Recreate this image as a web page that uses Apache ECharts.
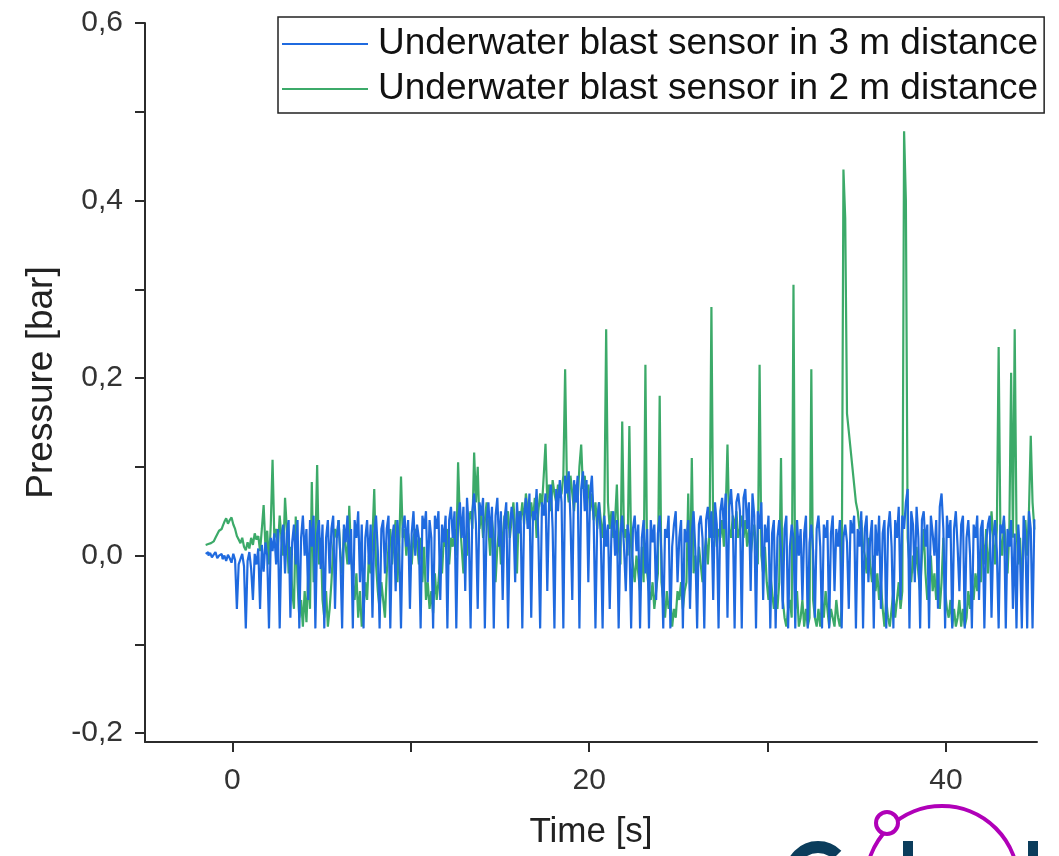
<!DOCTYPE html>
<html>
<head>
<meta charset="utf-8">
<title>Underwater blast sensors</title>
<script src="https://cdn.jsdelivr.net/npm/echarts@6/dist/echarts.min.js"></script>
<style>
  html, body { margin: 0; padding: 0; background: #fff; }
  #chart { width: 1059px; height: 856px; }
</style>
</head>
<body>
<div id="chart"></div>
<script>
// sampling grid of the recording (s): first sample and step
const tStart = -1.5
const tStep = 0.1

const seriesNames = ['Underwater blast sensor in 3 m distance', 'Underwater blast sensor in 2 m distance']

// pressure [bar], sensor at 3 m, one row = one second
const sensor3m = [
  0.002, 0.004, 0.0, 0.003, -0.002, 0.001, 0.004, -0.003, 0.0, 0.002,
  -0.004, 0.0, -0.006, 0.001, -0.003, -0.008, 0.002, -0.005, -0.06, -0.01,
  -0.004, 0.002, -0.012, -0.082, -0.006, 0.004, -0.015, -0.05, 0.002, -0.01,
  0.008, -0.06, 0.012, -0.018, 0.015, 0.0, -0.082, 0.02, 0.005, 0.025,
  -0.01, 0.03, -0.082, 0.02, 0.035, -0.02, 0.025, 0.04, -0.07, 0.015,
  0.035, -0.01, 0.04, -0.082, 0.02, 0.045, 0.0, 0.03, -0.05, 0.04,
  0.01, 0.045, -0.082, 0.025, 0.04, -0.015, 0.035, -0.082, 0.02, 0.04,
  -0.02, 0.03, 0.045, -0.06, 0.02, 0.04, 0.0, -0.082, 0.035, 0.015,
  0.045, -0.01, 0.03, -0.082, 0.04, 0.02, 0.05, -0.03, 0.035, -0.082,
  0.02, 0.04, -0.01, 0.035, -0.07, 0.025, 0.045, 0.005, -0.082, 0.03,
  0.04, -0.02, 0.03, 0.045, -0.082, 0.02, 0.035, -0.04, 0.04, 0.01,
  -0.082, 0.03, 0.045, 0.01, 0.04, -0.06, 0.025, 0.05, 0.0, 0.035,
  0.02, -0.082, 0.045, 0.03, 0.05, -0.03, 0.04, 0.02, -0.082, 0.045,
  0.03, 0.05, -0.05, 0.035, 0.015, 0.045, -0.082, 0.04, 0.055, 0.02,
  0.05, -0.082, 0.04, 0.06, 0.02, 0.055, -0.04, 0.065, 0.03, -0.082,
  0.05, 0.07, 0.035, -0.06, 0.06, 0.045, 0.065, -0.082, 0.04, 0.06,
  0.02, 0.055, -0.082, 0.045, 0.065, 0.01, 0.05, -0.05, 0.04, 0.06,
  -0.082, 0.03, 0.055, 0.04, -0.03, 0.06, 0.025, 0.05, -0.082, 0.045,
  0.065, 0.03, 0.07, -0.07, 0.05, 0.04, 0.075, 0.02, -0.082, 0.06,
  0.045, 0.07, -0.04, 0.06, 0.08, 0.03, -0.082, 0.075, 0.05, 0.085,
  0.06, -0.082, 0.09, 0.07, 0.095, 0.04, -0.05, 0.085, 0.06, 0.09,
  -0.082, 0.075, 0.095, 0.05, 0.085, -0.03, 0.07, 0.09, 0.04, -0.082,
  0.04, 0.06, 0.02, -0.082, 0.045, 0.01, 0.035, -0.06, 0.03, 0.05,
  0.0, 0.04, -0.082, 0.025, 0.045, 0.01, -0.04, 0.035, 0.02, -0.082,
  0.03, 0.045, 0.005, 0.035, -0.082, 0.02, 0.04, -0.02, 0.03, -0.082,
  0.04, 0.015, 0.035, -0.05, 0.025, 0.045, 0.0, -0.082, 0.03, 0.02,
  0.045, -0.082, 0.01, 0.035, 0.05, -0.03, 0.02, 0.04, -0.082, 0.03,
  0.015, 0.04, -0.06, 0.025, 0.05, 0.005, -0.082, 0.035, 0.045, 0.02,
  -0.082, 0.04, 0.055, 0.02, 0.05, -0.05, 0.06, 0.035, -0.082, 0.05,
  0.065, 0.03, 0.07, -0.07, 0.055, 0.075, 0.04, -0.082, 0.06, 0.07,
  0.05, -0.082, 0.065, 0.075, 0.03, 0.06, -0.04, 0.07, 0.045, -0.082,
  0.05, 0.03, 0.06, -0.05, 0.035, 0.015, 0.045, -0.082, 0.025, 0.04,
  -0.082, 0.02, 0.04, 0.005, -0.06, 0.03, 0.045, -0.082, 0.01, 0.035,
  0.02, -0.082, 0.04, 0.0, 0.03, -0.05, 0.025, 0.045, -0.082, 0.015,
  0.035, 0.005, -0.07, 0.03, 0.045, 0.01, -0.082, 0.035, 0.02, 0.04,
  -0.082, 0.025, 0.045, -0.04, 0.03, 0.01, 0.04, -0.082, 0.02, 0.035,
  0.015, -0.06, 0.04, 0.025, 0.045, -0.082, 0.03, 0.01, 0.05, -0.082,
  0.03, 0.045, -0.03, 0.02, 0.04, -0.082, 0.035, 0.0, 0.045, -0.06,
  0.025, 0.04, -0.082, 0.03, 0.05, 0.01, -0.082, 0.04, 0.02, 0.055,
  -0.05, 0.045, 0.03, 0.06, 0.075, -0.082, 0.05, 0.035, -0.03, 0.055,
  0.02, -0.082, 0.04, 0.05, 0.01, 0.035, -0.082, 0.045, 0.025, 0.0,
  0.04, -0.06, 0.055, 0.07, 0.03, -0.082, 0.045, 0.02, 0.04, -0.082,
  0.03, 0.05, 0.01, -0.04, 0.035, 0.045, -0.082, 0.02, 0.04, 0.0,
  -0.082, 0.035, 0.02, 0.045, -0.05, 0.03, 0.04, -0.082, 0.015, 0.035,
  0.045, -0.07, 0.02, 0.04, 0.005, -0.082, 0.035, 0.025, 0.045, -0.082,
  0.03, 0.01, 0.04, -0.06, 0.025, -0.082, 0.035, 0.0, -0.082, 0.045,
  0.02, -0.082, 0.05, 0.03, -0.082, 0.04
]

// pressure [bar], sensor at 2 m, one row = one second
const sensor2m = [
  0.012, 0.013, 0.011, 0.014, 0.016, 0.018, 0.02, 0.024, 0.028, 0.03,
  0.033, 0.038, 0.042, 0.036, 0.04, 0.043, 0.035, 0.03, 0.022, 0.018,
  0.014, 0.02, 0.01, 0.006, 0.015, 0.008, 0.02, 0.012, 0.025, 0.018,
  0.022, 0.005, 0.03, 0.057, 0.01, 0.028, -0.01, 0.035, 0.108, 0.02,
  0.03, 0.01, 0.045, 0.02, 0.0, 0.065, 0.03, -0.02, 0.01, -0.04,
  -0.06, 0.044, -0.03, -0.07, -0.05, -0.08, -0.04, -0.075, -0.02, -0.06,
  0.083, -0.03, 0.01, 0.102, -0.01, 0.02, -0.05, -0.07, -0.04, -0.08,
  -0.06, -0.03, 0.01, 0.03, 0.02, 0.04, 0.0, -0.02, 0.03, 0.01,
  -0.01, 0.056, 0.0, -0.03, -0.05, -0.02, -0.07, -0.04, -0.08, -0.06,
  -0.03, -0.05, 0.0, -0.02, 0.02, 0.075, -0.01, -0.04, -0.06, -0.03,
  -0.05, -0.07, -0.02, 0.01, 0.03, -0.01, 0.02, 0.04, -0.03, 0.01,
  0.089, 0.02, 0.03, 0.0, 0.025, 0.01, -0.01, 0.02, 0.03, 0.015,
  -0.01, 0.02, -0.03, 0.01, -0.05, -0.03, -0.06, -0.04, -0.065, -0.02,
  -0.05, -0.03, 0.0, -0.02, 0.02, 0.01, 0.03, -0.01, 0.02, 0.01,
  0.03, 0.0, 0.105, 0.04, 0.01, -0.02, 0.02, 0.0, 0.04, 0.05,
  0.03, 0.116, 0.06, 0.1, 0.03, 0.05, 0.02, 0.04, 0.06, 0.03,
  0.0, 0.04, 0.02, -0.03, 0.01, 0.03, -0.01, 0.02, 0.045, 0.03,
  0.05, 0.02, 0.04, 0.06, 0.03, -0.02, 0.05, 0.04, 0.06, 0.035,
  0.07, 0.05, 0.03, 0.06, 0.04, 0.065, 0.02, 0.05, 0.07, 0.055,
  0.09, 0.126, 0.06, 0.08, 0.05, 0.085, 0.07, 0.06, 0.08, 0.065,
  0.07, 0.09, 0.21, 0.08, 0.06, 0.09, 0.07, 0.05, 0.08, 0.06,
  0.1, 0.125, 0.075, 0.09, 0.06, 0.08, 0.05, 0.07, 0.04, 0.06,
  0.03, 0.06, 0.04, 0.02, 0.05, 0.255, 0.06, 0.03, 0.05, 0.02,
  0.04, 0.08, 0.01, -0.01, 0.151, 0.02, 0.03, 0.0, 0.146, 0.01,
  -0.01, -0.03, 0.0, -0.02, -0.04, 0.01, -0.03, 0.215, -0.02, -0.04,
  -0.05, -0.03, -0.06, -0.04, -0.02, 0.18, -0.03, -0.05, -0.07, -0.04,
  -0.06, -0.05, -0.08, -0.06, -0.07, -0.04, -0.05, -0.03, -0.06, -0.04,
  -0.03, 0.07, -0.04, 0.11, -0.02, 0.0, -0.03, 0.01, -0.01, -0.03,
  0.0, 0.02, -0.01, 0.03, 0.28, 0.02, 0.04, 0.01, 0.03, 0.02,
  0.04, 0.01, 0.05, 0.125, 0.03, 0.02, 0.045, 0.03, 0.05, 0.02,
  0.03, 0.045, 0.02, 0.04, 0.01, 0.03, 0.0, 0.02, 0.035, 0.01,
  -0.01, 0.215, 0.0, -0.02, 0.01, -0.03, -0.05, -0.02, -0.04, -0.06,
  -0.04, -0.06, -0.03, 0.11, -0.05, -0.07, -0.08, -0.06, -0.05, -0.07,
  0.305, -0.06, -0.04, -0.08, -0.07, -0.05, -0.08, -0.06, -0.08, -0.07,
  0.21, -0.05, -0.07, -0.08, -0.06, -0.08, -0.05, -0.07, -0.04, -0.06,
  -0.08, -0.06, -0.07, -0.08, -0.05, -0.07, -0.08, -0.06, 0.435, 0.38,
  0.16, 0.14, 0.12, 0.1, 0.08, 0.06, 0.05, 0.03, 0.04, 0.01,
  0.0, -0.02, 0.02, -0.01, -0.03, 0.0, -0.04, -0.02, -0.05, -0.03,
  -0.06, -0.08, -0.05, -0.07, -0.08, -0.06, -0.04, -0.07, -0.05, -0.03,
  -0.06, -0.04, 0.478, 0.4, 0.02, -0.01, -0.03, 0.0, -0.02, 0.01,
  -0.02, -0.04, 0.0, 0.03, -0.02, -0.05, -0.03, 0.0, -0.04, -0.02,
  -0.05, -0.01, -0.06, -0.03, 0.02, -0.04, -0.06, -0.07, -0.05, -0.08,
  -0.06, -0.08, -0.07, -0.05, -0.08, -0.06, -0.08, -0.07, -0.04, -0.06,
  -0.03, -0.05, -0.02, -0.04, 0.0, -0.03, 0.02, -0.01, 0.03, -0.02,
  0.01, 0.05, 0.02, -0.01, 0.03, 0.235, 0.02, 0.0, 0.04, 0.01,
  -0.02, 0.03, 0.206, 0.02, 0.255, 0.03, -0.01, 0.02, -0.03, 0.01,
  0.04, 0.0, 0.05, 0.135, 0.06, 0.03
]

const xTicks = [0, 10, 20, 30, 40]
const xLabels = [0, 20, 40]
const yTicks = [-0.2, -0.1, 0, 0.1, 0.2, 0.3, 0.4, 0.5, 0.6]
const yLabels = [-0.2, 0, 0.2, 0.4, 0.6]

function withTime(values) {
  return values.map((v, i) => [+(tStart + i * tStep).toFixed(2), v])
}

const font = 'Liberation Sans, Arial, sans-serif'
const axisColor = '#2b2b2b'

const chart = echarts.init(document.getElementById('chart'))
chart.setOption({
  animation: false,
  backgroundColor: '#fff',
  color: ['#1f6adf', '#3caa69'],
  grid: { left: 145, right: 22, top: 23, bottom: 114, containLabel: false },
  legend: {
    orient: 'vertical',
    left: 278,
    top: 17,
    padding: [6, 6, 3, 4],
    itemGap: 3,
    icon: 'rect',
    itemWidth: 86,
    itemHeight: 2,
    borderColor: '#222',
    borderWidth: 1.5,
    textStyle: { fontFamily: font, fontSize: 37, lineHeight: 42, color: '#111', padding: [0, 0, 0, 5] },
    data: seriesNames
  },
  xAxis: {
    type: 'value',
    min: -4.9,
    max: 45.1,
    name: 'Time [s]',
    nameLocation: 'middle',
    nameGap: 73,
    nameTextStyle: { fontFamily: font, fontSize: 35, color: '#222' },
    axisLine: { onZero: false, lineStyle: { color: axisColor, width: 2 } },
    axisTick: { show: true, inside: false, length: 10, customValues: xTicks, lineStyle: { color: axisColor, width: 2 } },
    axisLabel: { customValues: xLabels, margin: 24, fontFamily: font, fontSize: 30, color: '#333' },
    splitLine: { show: false }
  },
  yAxis: {
    type: 'value',
    min: -0.21,
    max: 0.6,
    name: 'Pressure [bar]',
    nameLocation: 'middle',
    nameGap: 82,
    nameTextStyle: { fontFamily: font, fontSize: 37, color: '#222' },
    axisLine: { show: true, onZero: false, lineStyle: { color: axisColor, width: 2 } },
    axisTick: { show: true, inside: false, length: 10, customValues: yTicks, lineStyle: { color: axisColor, width: 2 } },
    axisLabel: {
      customValues: yLabels,
      margin: 22,
      fontFamily: font,
      fontSize: 30,
      color: '#333',
      formatter: v => v.toFixed(1).replace('.', ',')
    },
    splitLine: { show: false }
  },
  series: [
    {
      name: seriesNames[0],
      type: 'line',
      z: 3,
      step: 'middle',
      symbol: 'none',
      lineStyle: { width: 2.2 },
      data: withTime(sensor3m)
    },
    {
      name: seriesNames[1],
      type: 'line',
      z: 2,
      step: 'middle',
      symbol: 'none',
      lineStyle: { width: 2.2 },
      data: withTime(sensor2m)
    }
  ],
  // cut-off logo in the lower right corner
  graphic: [
    { type: 'arc', shape: { cx: 942, cy: 882, r: 76, startAngle: Math.PI, endAngle: 2 * Math.PI }, style: { stroke: '#b000b8', lineWidth: 4, fill: null } },
    { type: 'circle', shape: { cx: 887, cy: 823, r: 11 }, style: { stroke: '#b000b8', lineWidth: 4, fill: '#fff' } },
    { type: 'arc', shape: { cx: 818, cy: 874, r: 27, startAngle: Math.PI, endAngle: 1.75 * Math.PI }, style: { stroke: '#0b3d5c', lineWidth: 12, fill: null } },
    { type: 'rect', shape: { x: 903, y: 841, width: 10, height: 20 }, style: { fill: '#0b3d5c' } },
    { type: 'rect', shape: { x: 1028, y: 841, width: 10, height: 20 }, style: { fill: '#0b3d5c' } }
  ]
})
</script>
</body>
</html>
